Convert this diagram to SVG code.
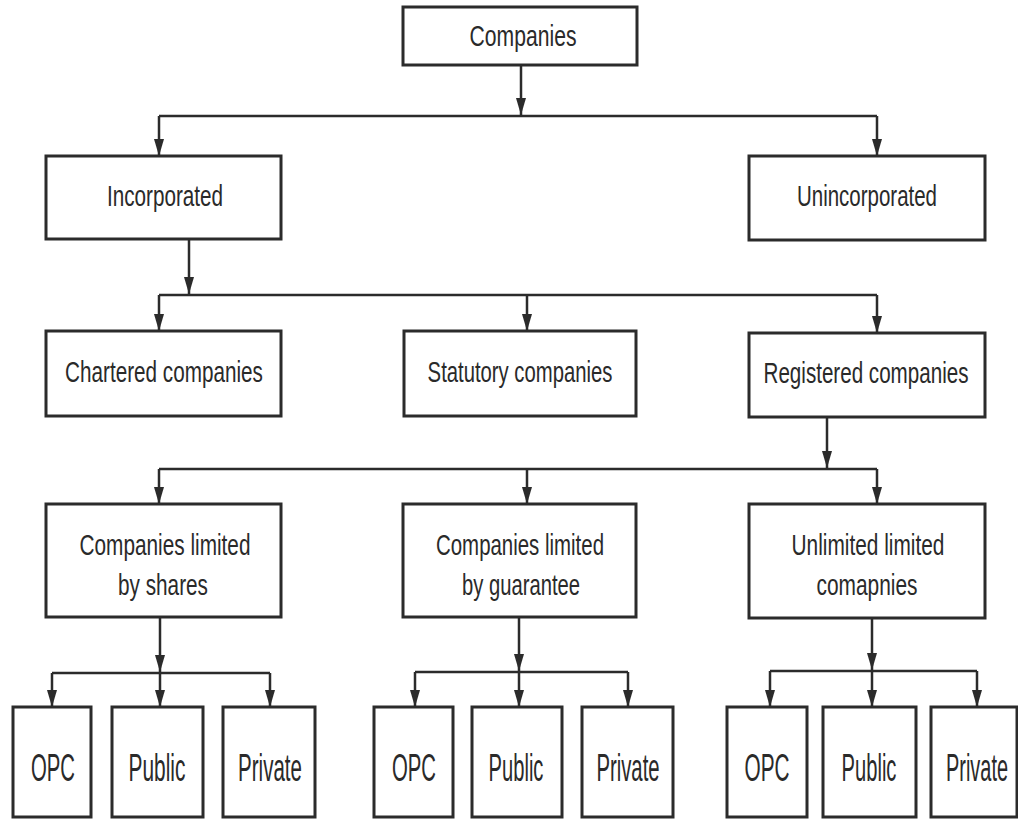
<svg xmlns="http://www.w3.org/2000/svg" width="1018" height="823" viewBox="0 0 1018 823">
<style>
.box{fill:#fff;stroke:#2b2b2b;stroke-width:3}
.t{font-family:"Liberation Sans",Arial,Helvetica,sans-serif;font-size:30px;fill:#2a2a2a;text-anchor:middle}
.l{font-size:38px}
.c{fill:none;stroke:#2b2b2b;stroke-width:2.5}
</style>
<defs>
<marker id="dn" markerUnits="userSpaceOnUse" markerWidth="12" markerHeight="18" refX="6" refY="17" viewBox="0 0 12 18" orient="0">
<path d="M1,0 L11,0 L6,17 Z" fill="#2b2b2b"/>
</marker>
</defs>
<rect width="1018" height="823" fill="#fff"/>
<g id="connectors">
<line class="c" x1="521" y1="65" x2="521" y2="115" marker-end="url(#dn)"/>
<line class="c" x1="159" y1="116" x2="877" y2="116"/>
<line class="c" x1="159" y1="116" x2="159" y2="156" marker-end="url(#dn)"/>
<line class="c" x1="877" y1="116" x2="877" y2="156" marker-end="url(#dn)"/>
<line class="c" x1="189" y1="239" x2="189" y2="294" marker-end="url(#dn)"/>
<line class="c" x1="159" y1="295" x2="877" y2="295"/>
<line class="c" x1="159" y1="295" x2="159" y2="331" marker-end="url(#dn)"/>
<line class="c" x1="527" y1="295" x2="527" y2="331" marker-end="url(#dn)"/>
<line class="c" x1="877" y1="295" x2="877" y2="333" marker-end="url(#dn)"/>
<line class="c" x1="827" y1="417" x2="827" y2="468" marker-end="url(#dn)"/>
<line class="c" x1="159" y1="469" x2="877" y2="469"/>
<line class="c" x1="159" y1="469" x2="159" y2="504" marker-end="url(#dn)"/>
<line class="c" x1="527" y1="469" x2="527" y2="504" marker-end="url(#dn)"/>
<line class="c" x1="877" y1="469" x2="877" y2="504" marker-end="url(#dn)"/>
<line class="c" x1="160" y1="617" x2="160" y2="672" marker-end="url(#dn)"/>
<line class="c" x1="52" y1="673" x2="270" y2="673"/>
<line class="c" x1="52" y1="673" x2="52" y2="707" marker-end="url(#dn)"/>
<line class="c" x1="160" y1="673" x2="160" y2="707" marker-end="url(#dn)"/>
<line class="c" x1="270" y1="673" x2="270" y2="707" marker-end="url(#dn)"/>
<line class="c" x1="519" y1="617" x2="519" y2="671" marker-end="url(#dn)"/>
<line class="c" x1="415" y1="672" x2="628" y2="672"/>
<line class="c" x1="415" y1="672" x2="415" y2="707" marker-end="url(#dn)"/>
<line class="c" x1="519" y1="672" x2="519" y2="707" marker-end="url(#dn)"/>
<line class="c" x1="628" y1="672" x2="628" y2="707" marker-end="url(#dn)"/>
<line class="c" x1="872" y1="618" x2="872" y2="670" marker-end="url(#dn)"/>
<line class="c" x1="770" y1="671" x2="977" y2="671"/>
<line class="c" x1="770" y1="671" x2="770" y2="707" marker-end="url(#dn)"/>
<line class="c" x1="872" y1="671" x2="872" y2="707" marker-end="url(#dn)"/>
<line class="c" x1="977" y1="671" x2="977" y2="707" marker-end="url(#dn)"/>
</g>
<g id="companies"><rect class="box" x="403" y="7" width="234" height="58"/><text class="t" transform="translate(523,46) scale(0.705,1)">Companies</text></g>
<g id="incorporated"><rect class="box" x="46" y="156" width="235" height="83"/><text class="t" transform="translate(165,206) scale(0.689,1)">Incorporated</text></g>
<g id="unincorporated"><rect class="box" x="749" y="156" width="236" height="84"/><text class="t" transform="translate(867,206) scale(0.683,1)">Unincorporated</text></g>
<g id="chartered"><rect class="box" x="46" y="331" width="235" height="85"/><text class="t" transform="translate(164,382) scale(0.69,1)">Chartered companies</text></g>
<g id="statutory"><rect class="box" x="404" y="331" width="232" height="85"/><text class="t" transform="translate(520,382) scale(0.676,1)">Statutory companies</text></g>
<g id="registered"><rect class="box" x="749" y="333" width="236" height="84"/><text class="t" transform="translate(866,383) scale(0.687,1)">Registered companies</text></g>
<g id="shares"><rect class="box" x="46" y="504" width="235" height="113"/><text class="t" transform="translate(165,555) scale(0.693,1)">Companies limited</text><text class="t" transform="translate(163,595) scale(0.692,1)">by shares</text></g>
<g id="guarantee"><rect class="box" x="403" y="504" width="233" height="113"/><text class="t" transform="translate(520,555) scale(0.681,1)">Companies limited</text><text class="t" transform="translate(521,595) scale(0.674,1)">by guarantee</text></g>
<g id="unlimited"><rect class="box" x="749" y="504" width="236" height="114"/><text class="t" transform="translate(868,555) scale(0.695,1)">Unlimited limited</text><text class="t" transform="translate(867,595) scale(0.697,1)">comapnies</text></g>
<g id="opc1"><rect class="box" x="13" y="707" width="78" height="110"/><text class="t l" transform="translate(53,781) scale(0.535,1)">OPC</text></g>
<g id="public1"><rect class="box" x="112" y="707" width="91" height="110"/><text class="t l" transform="translate(157,781) scale(0.55,1)">Public</text></g>
<g id="private1"><rect class="box" x="223" y="707" width="92" height="110"/><text class="t l" transform="translate(270,781) scale(0.54,1)">Private</text></g>
<g id="opc2"><rect class="box" x="374" y="707" width="79" height="110"/><text class="t l" transform="translate(414,781) scale(0.535,1)">OPC</text></g>
<g id="public2"><rect class="box" x="472" y="707" width="90" height="110"/><text class="t l" transform="translate(516,781) scale(0.53,1)">Public</text></g>
<g id="private2"><rect class="box" x="582" y="707" width="91" height="110"/><text class="t l" transform="translate(628,781) scale(0.534,1)">Private</text></g>
<g id="opc3"><rect class="box" x="727" y="707" width="80" height="110"/><text class="t l" transform="translate(767,781) scale(0.547,1)">OPC</text></g>
<g id="public3"><rect class="box" x="823" y="707" width="93" height="110"/><text class="t l" transform="translate(869,781) scale(0.53,1)">Public</text></g>
<g id="private3"><rect class="box" x="931" y="707" width="86" height="110"/><text class="t l" transform="translate(977,781) scale(0.525,1)">Private</text></g>
</svg>
